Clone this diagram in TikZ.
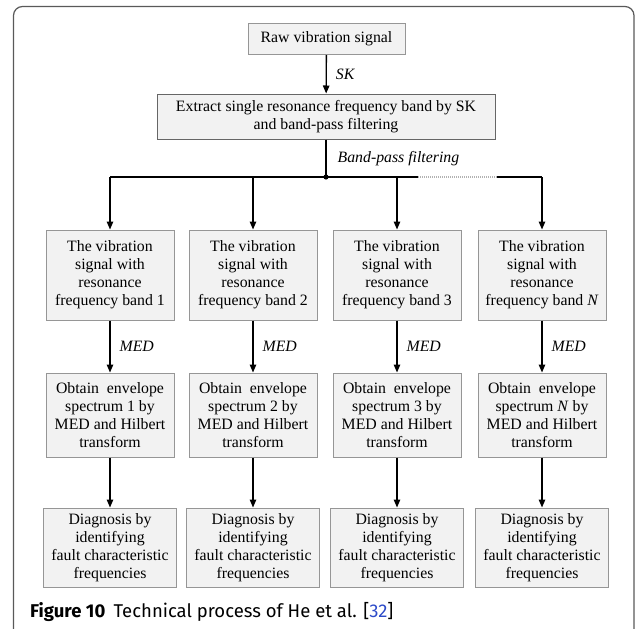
\documentclass[tikz,border=0pt]{standalone}
\usepackage{fontspec}
\setmainfont{Liberation Serif}
\newfontfamily\capfont{Fira Sans}
\usepackage{tikz}
\usetikzlibrary{arrows.meta}
\usepackage{xcolor}
\definecolor{boxfill}{RGB}{242,242,242}
\definecolor{boxline}{RGB}{150,150,150}
\definecolor{reflink}{RGB}{45,75,200}

\begin{document}
\begin{tikzpicture}[x=1pt,y=-1pt,>={Triangle[length=8pt,width=6.5pt]},
  font=\fontsize{15.8}{18}\selectfont,
  box/.style={draw=boxline,fill=boxfill,line width=1pt,align=center,inner sep=0pt},
  flow/.style={->,line width=1.3pt},
  lbl/.style={font=\fontsize{15.8}{18}\selectfont\itshape,inner sep=0pt}]
\useasboundingbox (0,0) rectangle (635,629);
\begin{scope}
\clip (0,0) rectangle (635,629);
\draw[black!65,line width=1.2pt,rounded corners=9pt] (13.5,6.5) rectangle (634,640);
\end{scope}

\node[box,minimum width=157pt,minimum height=31pt] (raw) at (326.5,39) {Raw vibration signal};
\node[box,draw=black!60,minimum width=338pt,minimum height=45pt] (extract) at (326,116.5)
  {Extract single resonance frequency band by SK\\and band-pass filtering};

\node[box,minimum width=128pt,minimum height=90pt] (vib1) at (110,275) {The vibration\\signal with\\resonance\\frequency band 1};
\node[box,minimum width=128pt,minimum height=90pt] (vib2) at (253,275) {The vibration\\signal with\\resonance\\frequency band 2};
\node[box,minimum width=128pt,minimum height=90pt] (vib3) at (397,275) {The vibration\\signal with\\resonance\\frequency band 3};
\node[box,minimum width=128pt,minimum height=90pt] (vib4) at (542,275) {The vibration\\signal with\\resonance\\frequency band \textit{N}};

\node[box,minimum width=128pt,minimum height=84pt] (env1) at (110,415) {Obtain~~envelope\\spectrum 1 by\\MED and Hilbert\\transform};
\node[box,minimum width=128pt,minimum height=84pt] (env2) at (253,415) {Obtain~~envelope\\spectrum 2 by\\MED and Hilbert\\transform};
\node[box,minimum width=128pt,minimum height=84pt] (env3) at (397,415) {Obtain~~envelope\\spectrum 3 by\\MED and Hilbert\\transform};
\node[box,minimum width=128pt,minimum height=84pt] (env4) at (542,415) {Obtain~~envelope\\spectrum \textit{N} by\\MED and Hilbert\\transform};

\node[box,minimum width=133pt,minimum height=79pt] (diag1) at (110,547.5) {Diagnosis by\\identifying\\fault characteristic\\frequencies};
\node[box,minimum width=133pt,minimum height=79pt] (diag2) at (253,547.5) {Diagnosis by\\identifying\\fault characteristic\\frequencies};
\node[box,minimum width=133pt,minimum height=79pt] (diag3) at (397,547.5) {Diagnosis by\\identifying\\fault characteristic\\frequencies};
\node[box,minimum width=133pt,minimum height=79pt] (diag4) at (542,547.5) {Diagnosis by\\identifying\\fault characteristic\\frequencies};

\coordinate (bus) at (326,177);
\coordinate (tap1) at (110,177);
\coordinate (tap2) at (253,177);
\coordinate (tap3) at (397,177);
\coordinate (tap4) at (542,177);
\coordinate (gapL) at (418,177);
\coordinate (gapR) at (497,177);

\draw[flow] (raw) -- node[lbl,right=9pt] {SK} (extract);
\draw[line width=1.3pt] (extract) -- node[lbl,right=11pt] {Band-pass filtering} (bus);
\fill (bus) circle (2.6pt);
\draw[line width=1.3pt] (tap1) -- (gapL);
\draw[gray!60,line width=1.1pt,dash pattern=on 1pt off 1pt] (gapL) -- (gapR);
\draw[line width=1.3pt] (gapR) -- (tap4);
\draw[flow] (tap1) -- (vib1);
\draw[flow] (tap2) -- (vib2);
\draw[flow] (tap3) -- (vib3);
\draw[flow] (tap4) -- (vib4);

\draw[flow] (vib1) -- node[lbl,right=9pt] {MED} (env1);
\draw[flow] (vib2) -- node[lbl,right=9pt] {MED} (env2);
\draw[flow] (vib3) -- node[lbl,right=9pt] {MED} (env3);
\draw[flow] (vib4) -- node[lbl,right=9pt] {MED} (env4);

\draw[flow] (env1) -- (diag1);
\draw[flow] (env2) -- (diag2);
\draw[flow] (env3) -- (diag3);
\draw[flow] (env4) -- (diag4);

\node[anchor=west,inner sep=0pt,font=\capfont\fontsize{18.5}{21}\selectfont] (caption) at (30,612)
  {\textbf{Figure 10}\hspace{0.45em}Technical process of He et al. [{\color{reflink}32}]};
\end{tikzpicture}
\end{document}
